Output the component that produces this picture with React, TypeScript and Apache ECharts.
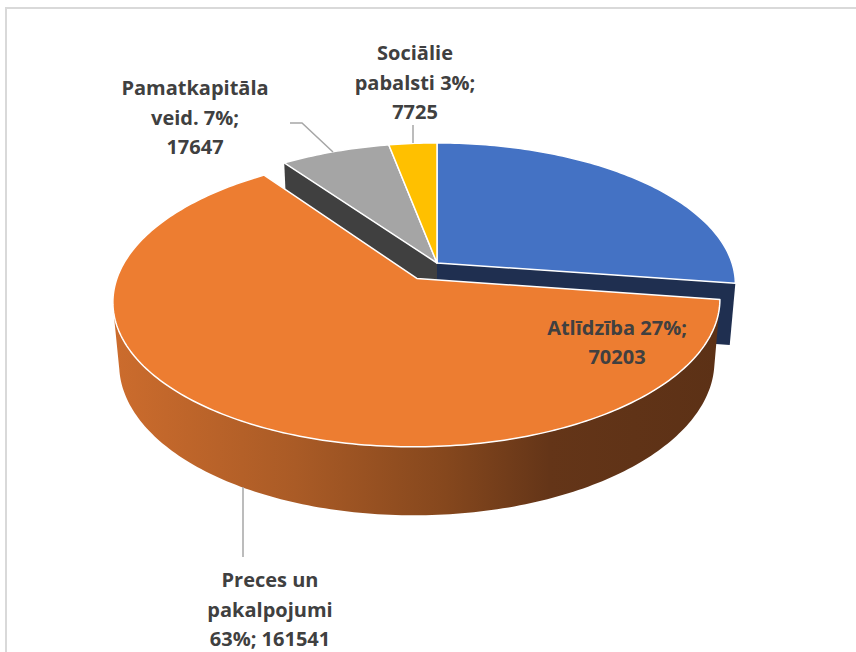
import React, { useEffect, useRef } from 'react';
import * as echarts from 'echarts';

// ---- data ----
const categories = ['Atlīdzība', 'Preces un pakalpojumi', 'Pamatkapitāla veid.', 'Sociālie pabalsti'];
const values = [70203, 161541, 17647, 7725];

// ---- style / layout ----
const topColors = ['#4472c4', '#ed7d31', '#a5a5a5', '#ffc000'];
const faceColors = ['#1f2f50', '#7a3f14', '#404040', '#7f6000'];
const explode = [0, 38, 0, 0];
const wordsPerLine = [[2, 1], [2, 1, 2], [1, 2, 1], [1, 2, 1]];
const labelPos = [[617, 342], [270, 609], [195, 117], [415, 82]];
const leaders: (number[][] | null)[] = [
  null,
  [[243, 557], [243, 487]],
  [[290, 123], [302, 123], [333, 152]],
  [[413, 125], [413, 143]],
];

const FONT_FAMILY = '"Open Sans", Lato, sans-serif';
const FONT_SIZE = 20;
const LINE_H = 29.5;

// projection parameters
const CX = 437, CY = 263, R = 295, H = 70;
const PHI = (27.9 * Math.PI) / 180;
const DIST = 1738;

const rad = (d: number) => (d * Math.PI) / 180;
function proj(X: number, F: number, h: number): number[] {
  const v = F * Math.sin(PHI) + h * Math.cos(PHI);
  const d = F * Math.cos(PHI) - h * Math.sin(PHI);
  const s = DIST / (DIST + d);
  return [CX + s * X, CY - s * v];
}
function rim(a: number, ox: number, of: number, h: number) {
  return proj(ox + R * Math.sin(rad(a)), of + R * Math.cos(rad(a)), h);
}
function arcPts(a0: number, a1: number, ox: number, of: number, h: number) {
  const n = Math.max(2, Math.ceil(Math.abs(a1 - a0)));
  const pts: number[][] = [];
  for (let k = 0; k <= n; k++) pts.push(rim(a0 + ((a1 - a0) * k) / n, ox, of, h));
  return pts;
}

const TOTAL = values.reduce((a, b) => a + b, 0);
const slices = (() => {
  let acc = 0;
  return values.map((v) => {
    const a0 = (acc / TOTAL) * 360;
    acc += v;
    const a1 = (acc / TOTAL) * 360;
    return { a0, a1 };
  });
})();
const SIL = (Math.acos(-R / (DIST * Math.cos(PHI))) * 180) / Math.PI;

function labelText(i: number) {
  const pct = Math.round((values[i] / TOTAL) * 100) + '%;';
  const words = [...categories[i].split(' '), pct, String(values[i])];
  const lines: string[] = [];
  let k = 0;
  for (const c of wordsPerLine[i]) {
    lines.push(words.slice(k, k + c).join(' '));
    k += c;
  }
  return lines.join('\n');
}

export default function App() {
  const ref = useRef<HTMLDivElement>(null);
  useEffect(() => {
    if (!ref.current) return;
    const chart = echarts.init(ref.current, undefined, { renderer: 'svg' });
    const n = values.length;
    chart.setOption({
      animation: false,
      backgroundColor: '#ffffff',
      graphic: [
        {
          type: 'rect',
          silent: true,
          shape: { x: 6, y: 8, width: 900, height: 700 },
          style: { fill: 'none', stroke: '#d9d9d9', lineWidth: 2 },
        },
      ],
      series: [
        {
          type: 'custom',
          coordinateSystem: 'none',
          silent: true,
          data: values.map((v, i) => ({ value: v, name: categories[i] })),
          renderItem: (params: any) => {
            const i = params.dataIndex;
            const { a0, a1 } = slices[i];
            const mid = rad((a0 + a1) / 2);
            const ox = explode[i] * Math.sin(mid);
            const of = explode[i] * Math.cos(mid);
            const children: any[] = [];
            const apexT = proj(ox, of, 0);
            const apexB = proj(ox, of, -H);
            const prev = (i - 1 + n) % n;
            const next = (i + 1) % n;
            const endVisible = Math.sin(rad(a1)) > 0.01;
            const startVisible = Math.sin(rad(a0)) < -0.01;
            if (endVisible && (explode[i] > 0 || explode[next] > 0)) {
              children.push({
                type: 'polygon', z2: 1,
                shape: { points: [apexT, rim(a1, ox, of, 0), rim(a1, ox, of, -H), apexB] },
                style: { fill: faceColors[i] },
              });
            }
            if (startVisible && (explode[i] > 0 || explode[prev] > 0)) {
              children.push({
                type: 'polygon', z2: 1,
                shape: { points: [apexT, rim(a0, ox, of, 0), rim(a0, ox, of, -H), apexB] },
                style: { fill: faceColors[i] },
              });
            }
            const w0 = Math.max(a0, SIL);
            const w1 = Math.min(a1, 360 - SIL);
            if (w1 > w0) {
              const top = arcPts(w0, w1, ox, of, 0);
              const bot = arcPts(w0, w1, ox, of, -H).reverse();
              children.push({
                type: 'polygon', z2: 2,
                shape: { points: [...top, ...bot] },
                style: {
                  fill: i === 1
                    ? {
                        type: 'linear', x: 0, y: 0, x2: 1, y2: 0,
                        colorStops: [
                          { offset: 0, color: '#cc6c2d' },
                          { offset: 0.3, color: '#aa5b26' },
                          { offset: 0.55, color: '#85471d' },
                          { offset: 0.72, color: '#643518' },
                          { offset: 1, color: '#5c3116' },
                        ],
                      }
                    : faceColors[i],
                },
              });
            }
            children.push({
              type: 'polygon', z2: 3,
              shape: { points: [apexT, ...arcPts(a0, a1, ox, of, 0)] },
              style: { fill: topColors[i], stroke: '#ffffff', lineWidth: 1.5, lineJoin: 'round' },
            });
            const ld = leaders[i];
            if (ld) {
              children.push({
                type: 'polyline', z2: 4,
                shape: { points: ld },
                style: { fill: 'none', stroke: '#a6a6a6', lineWidth: 1.5 },
              });
            }
            children.push({
              type: 'text', z2: 5,
              x: labelPos[i][0], y: labelPos[i][1],
              style: {
                text: labelText(i),
                fill: '#404040',
                fontFamily: FONT_FAMILY,
                fontSize: FONT_SIZE,
                fontWeight: 'bold',
                lineHeight: LINE_H,
                align: 'center',
                verticalAlign: 'middle',
              },
            });
            return { type: 'group', children };
          },
        },
      ],
    });
    return () => chart.dispose();
  }, []);
  return (
    <div
      ref={ref}
      style={{ position: 'fixed', left: 0, top: 0, width: 856, height: 652, background: '#fff' }}
    />
  );
}
